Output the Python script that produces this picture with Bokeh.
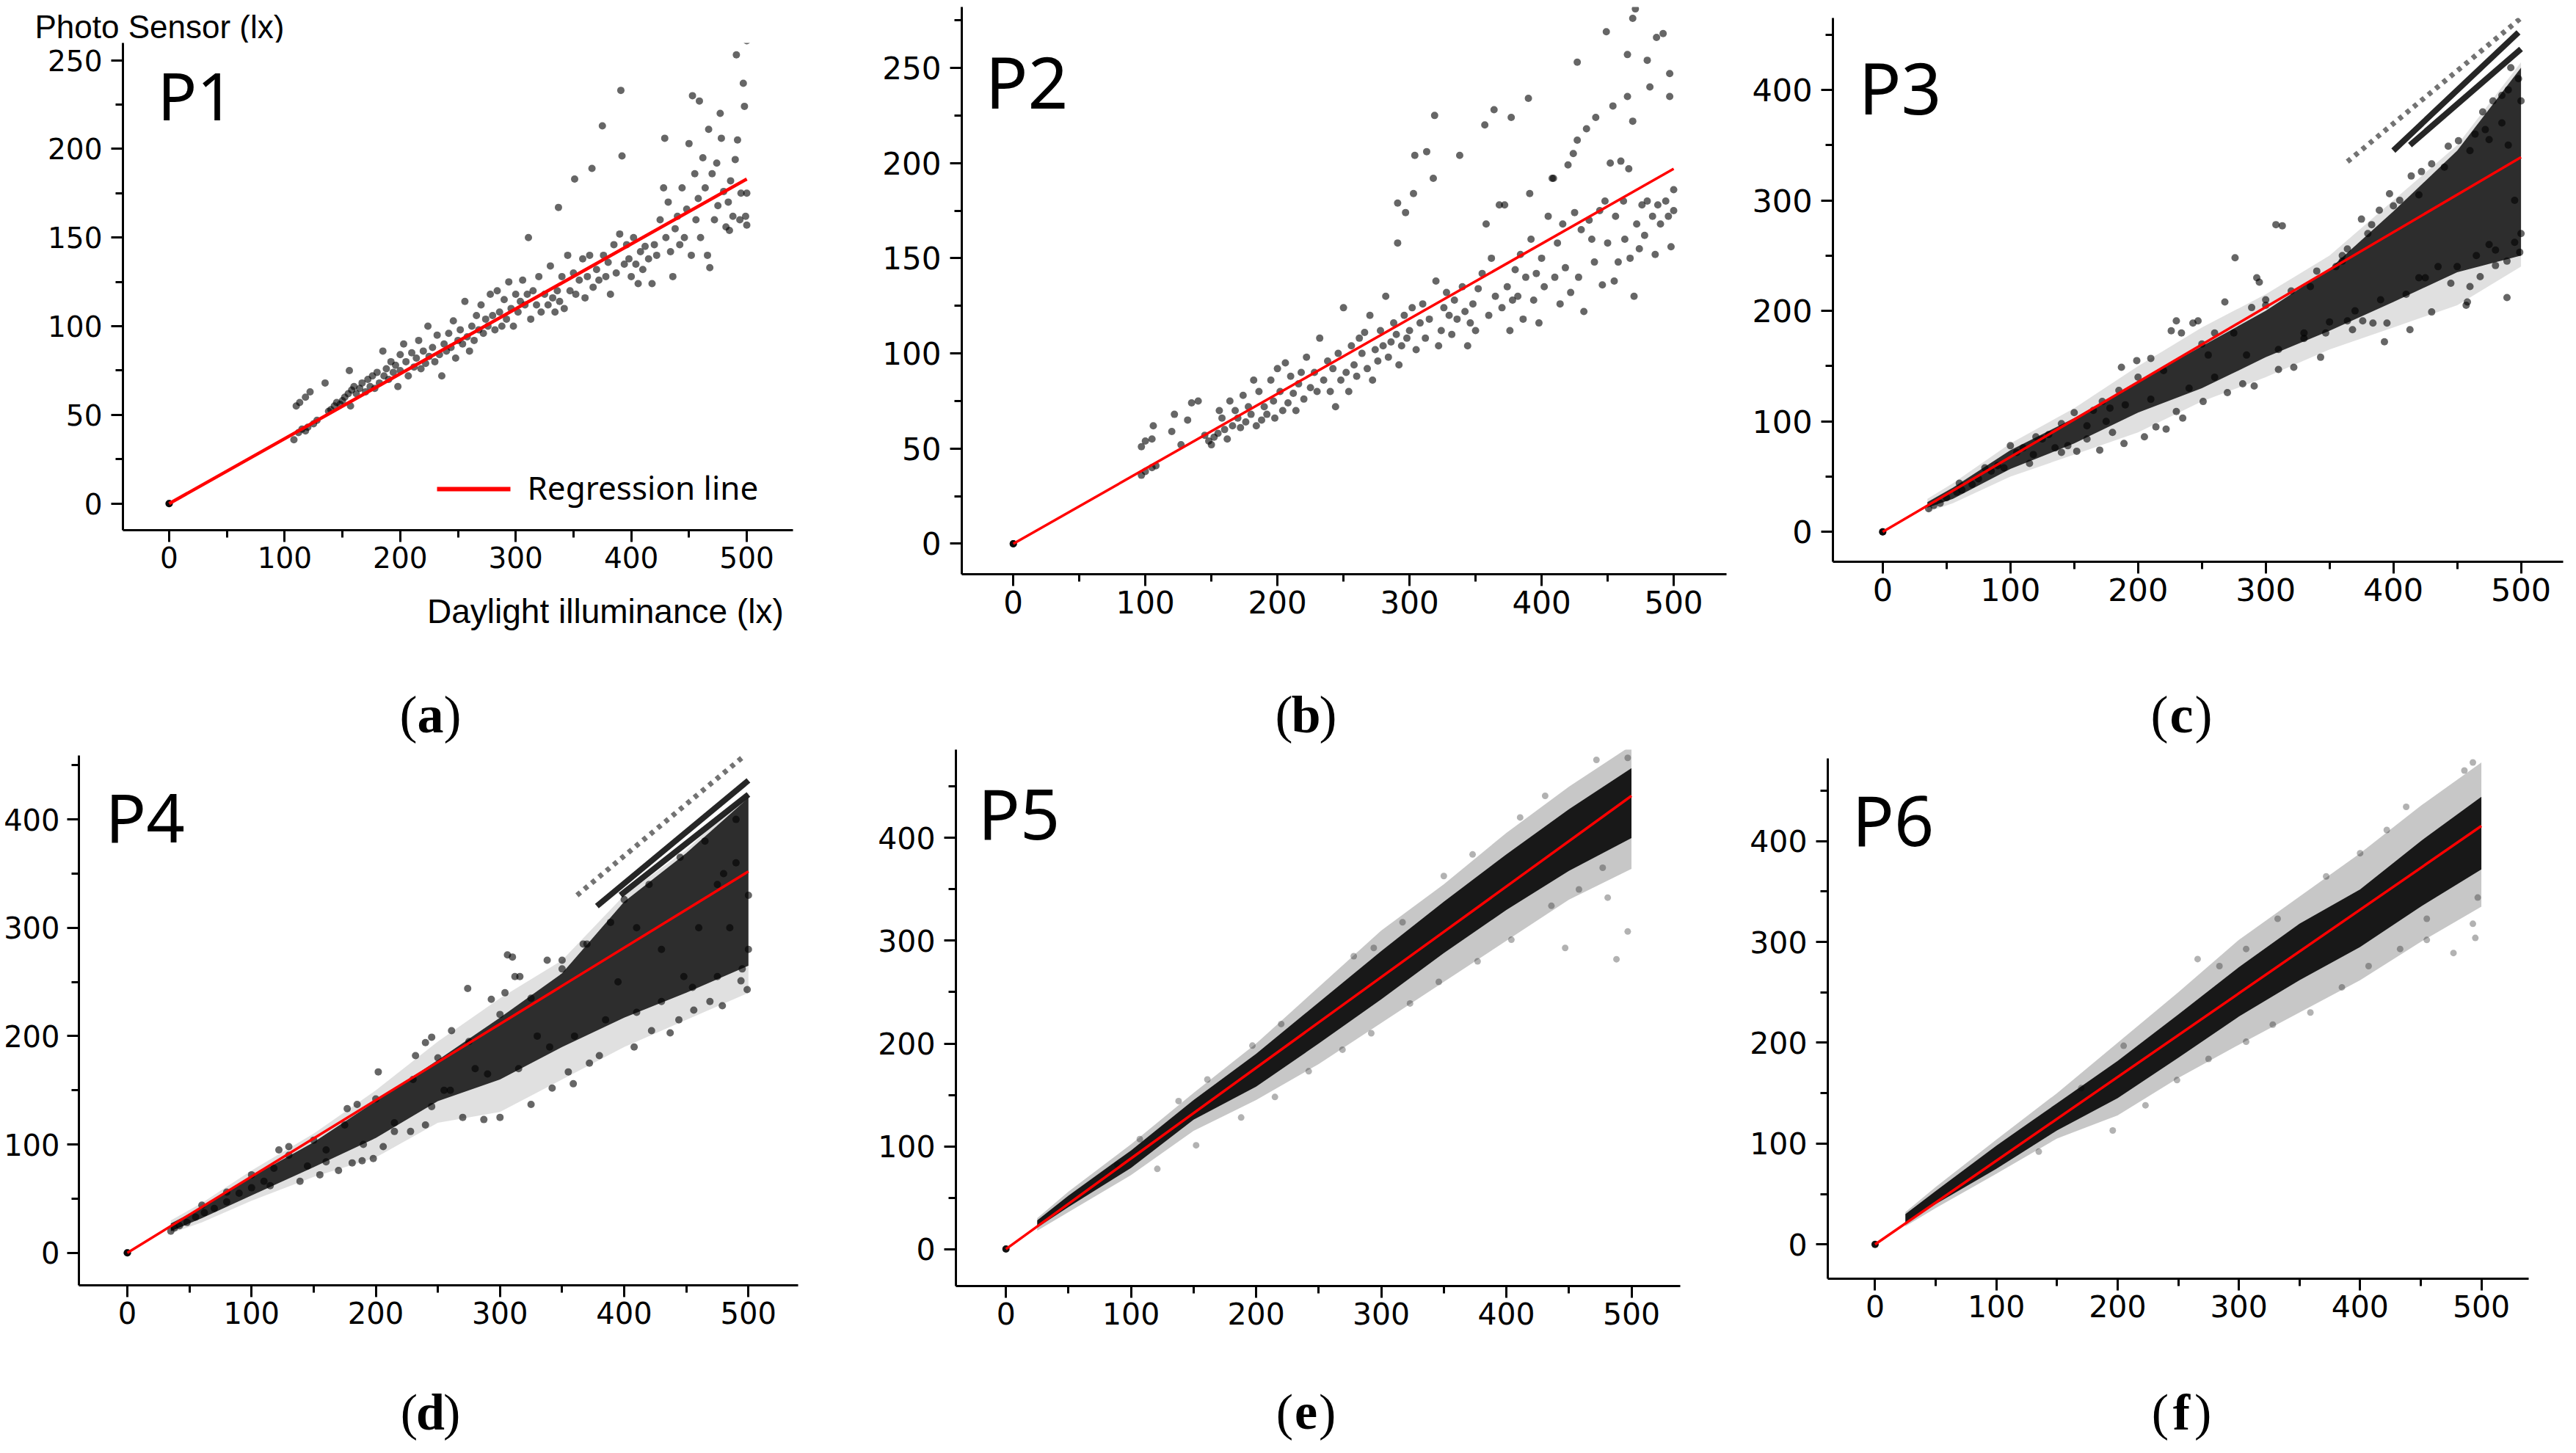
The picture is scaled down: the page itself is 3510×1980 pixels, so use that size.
from bokeh.plotting import figure
from bokeh.models import Label, FixedTicker, Range1d
from bokeh.layouts import row, column
from bokeh.core.properties import value
from bokeh.embed import file_html
from bokeh.resources import INLINE

# ---------------- data ----------------
panel_names = ["P1", "P2", "P3", "P4", "P5", "P6"]
caption_letters = ["a", "b", "c", "d", "e", "f"]
x_ticks = [0, 100, 200, 300, 400, 500]
x_minor = [50, 150, 250, 350, 450]
y_ticks_small = [0, 50, 100, 150, 200, 250]
y_minor_small = [25, 75, 125, 175, 225, 275]
y_ticks_large = [0, 100, 200, 300, 400]
y_minor_large = [50, 150, 250, 350, 450]

reg_x = [0, 500]
reg_end = [183, 197, 339, 352, 441, 415]   # regression value at x = 500

p1_pts = [
    (0, 0),
    (108, 36), (112, 40), (115, 42), (118, 41), (120, 43), (110, 55), (113, 57), (118, 60), (122, 63), (125, 45), (128, 47),
    (135, 68), (138, 52), (140, 53), (143, 55), (145, 57), (148, 56), (150, 58), (152, 60), (155, 62), (157, 55), (158, 64), (160, 66), (156, 75),
    (162, 62), (165, 65), (167, 68), (170, 63), (172, 70), (174, 66), (176, 72), (178, 65), (180, 74), (182, 68), (185, 86), (186, 72), (188, 76),
    (190, 70), (192, 80), (194, 74), (196, 78), (198, 66), (200, 84), (200, 75),
    (203, 90), (205, 80), (207, 72), (210, 85), (212, 77), (214, 82), (216, 92), (218, 76), (220, 86), (222, 79), (224, 100), (225, 83),
    (228, 88), (230, 80), (232, 95), (234, 84), (236, 72), (238, 90), (240, 86), (242, 96), (244, 88), (246, 103), (248, 82), (250, 92),
    (252, 98), (254, 90), (256, 114), (258, 94), (260, 86), (262, 100), (264, 92), (266, 106), (268, 98), (270, 112), (272, 96), (274, 104),
    (276, 100), (278, 118), (280, 106), (282, 98), (284, 120), (286, 108), (288, 100), (290, 115), (292, 104), (294, 125), (296, 110), (298, 100), (300, 118),
    (302, 108), (304, 114), (306, 126), (308, 112), (310, 118), (311, 150), (313, 104), (315, 120), (318, 112), (320, 128), (322, 108), (325, 118),
    (328, 112), (330, 134), (332, 116), (334, 108), (336, 120), (337, 167), (338, 114), (340, 128), (342, 110), (345, 140), (347, 120), (350, 130),
    (351, 183), (352, 118), (355, 126), (358, 138), (360, 116), (362, 128), (364, 140), (366, 189), (367, 122), (370, 132), (372, 126), (375, 213),
    (376, 140), (378, 128), (380, 136), (382, 118), (385, 146), (387, 130), (390, 152), (391, 233), (392, 196), (394, 135), (396, 146), (398, 138), (400, 128),
    (402, 150), (404, 135), (406, 124), (408, 142), (410, 132), (412, 145), (415, 138), (418, 124), (420, 146), (422, 140), (425, 160), (428, 178),
    (429, 206), (430, 150), (432, 170), (434, 142), (436, 128), (438, 155), (440, 162), (442, 146), (444, 178), (446, 150), (448, 166), (450, 203),
    (452, 140), (453, 230), (455, 186), (456, 160), (458, 172), (459, 227), (460, 150), (462, 195), (464, 178), (466, 140), (467, 211), (468, 133),
    (470, 186), (472, 160), (474, 192), (475, 168), (477, 220), (478, 206), (480, 176), (482, 156), (484, 170), (485, 154), (486, 182), (488, 162),
    (490, 194), (491, 253), (492, 205), (494, 160), (495, 175), (497, 237), (498, 224), (499, 162), (500, 261), (500, 175), (500, 157),
]

p2_pts = [
    (0, 0),
    (97, 36), (100, 38), (105, 40), (108, 41), (97, 51), (100, 54), (105, 55), (106, 62), (120, 59), (122, 68), (127, 52), (132, 65), (135, 74), (140, 75),
    (145, 57), (148, 54), (150, 52), (152, 56), (155, 58), (156, 70), (158, 66), (160, 60), (162, 55), (164, 75), (166, 62), (168, 70), (170, 66),
    (172, 61), (174, 78), (176, 64), (178, 72), (180, 68), (182, 86), (184, 62), (186, 80), (188, 65), (190, 72), (192, 68), (195, 86), (197, 75),
    (198, 66), (200, 92), (202, 80),
    (204, 70), (206, 95), (208, 74), (210, 88), (212, 79), (214, 70), (216, 84), (218, 90), (220, 76), (222, 98), (225, 82), (228, 90), (230, 80),
    (232, 108), (235, 86), (238, 96), (240, 80), (242, 92), (244, 72), (246, 100), (248, 86), (250, 124), (252, 90), (254, 80), (256, 104), (258, 94), (260, 88),
    (262, 108), (264, 100), (266, 111), (268, 92), (270, 120), (272, 86), (274, 102), (276, 96), (278, 112), (280, 104), (282, 130), (284, 98),
    (286, 106), (288, 116), (290, 110), (291, 158), (291, 179), (292, 94), (294, 104), (296, 120), (297, 174), (298, 108), (300, 112), (302, 124),
    (303, 184), (304, 204), (305, 102), (308, 116), (310, 126), (312, 108), (313, 206), (315, 118), (318, 192), (319, 225), (320, 138),
    (322, 104), (324, 112), (326, 124), (328, 132), (330, 120), (332, 110), (334, 128), (336, 118), (338, 204), (340, 135), (342, 122), (344, 104),
    (346, 116), (348, 126), (350, 112), (352, 134), (355, 142), (357, 220), (358, 168), (360, 120), (362, 150), (364, 228), (365, 130), (368, 178),
    (370, 124), (372, 178), (374, 135), (376, 112), (377, 224), (378, 128), (380, 144),
    (382, 130), (384, 152), (386, 118), (388, 140), (390, 234), (391, 184), (392, 160), (394, 128), (396, 142), (398, 116), (400, 150), (402, 135),
    (405, 172), (408, 192), (409, 192), (410, 140), (412, 158), (414, 126), (416, 168), (418, 145), (420, 199), (422, 132), (424, 205), (425, 174),
    (427, 212), (427, 253), (428, 140), (430, 165), (432, 122), (434, 218), (436, 170), (438, 160), (440, 148),
    (441, 224), (444, 175), (446, 136), (448, 180), (449, 269), (450, 158), (452, 200), (454, 230), (455, 138), (456, 172), (458, 148), (460, 201),
    (462, 180), (463, 160), (465, 257), (465, 235), (466, 197), (467, 150), (469, 276), (469, 222), (470, 130), (471, 281), (472, 168), (474, 155),
    (476, 178), (478, 162), (480, 254), (480, 180), (482, 240), (484, 172), (486, 152), (487, 266), (488, 178), (490, 168), (492, 268), (494, 180),
    (496, 172), (497, 247), (497, 235), (498, 156), (500, 186), (500, 175),
]

p3_pts = [
    (0, 0),
    (36, 21), (40, 24), (45, 26), (50, 31), (58, 36), (62, 38), (70, 43), (75, 48), (85, 55), (90, 60), (95, 58), (105, 72), (110, 76), (118, 70),
    (125, 84), (130, 88), (135, 76), (140, 98), (145, 78), (152, 73), (160, 84), (165, 110), (170, 74), (172, 118), (178, 112), (180, 90), (185, 128),
    (187, 149), (189, 80), (199, 155), (205, 86), (210, 157), (214, 95), (222, 93), (226, 182), (230, 191), (230, 109), (234, 180), (235, 103),
    (243, 189), (247, 191), (251, 118), (255, 160), (260, 180), (268, 208), (270, 126), (276, 248), (282, 134), (289, 203), (291, 132), (293, 230),
    (295, 226), (300, 205), (308, 278), (310, 147), (313, 277), (322, 149), (330, 180), (335, 222), (343, 158), (347, 180), (355, 240), (360, 250),
    (364, 191), (364, 256), (368, 183), (375, 283), (376, 191), (383, 278), (384, 189), (389, 291), (393, 172), (395, 189), (397, 306), (405, 300),
    (413, 183), (414, 322), (420, 230), (422, 326), (430, 199), (430, 333), (435, 240), (443, 349), (445, 225), (451, 354), (457, 205), (458, 208),
    (460, 222), (464, 360), (468, 231), (472, 364), (475, 260), (480, 241), (485, 370), (489, 212), (489, 245), (495, 300), (499, 253), (500, 270),
    (500, 390), (498, 410), (490, 400), (485, 395), (478, 390), (470, 380), (492, 420),
    (60, 44), (80, 58), (100, 78), (115, 62), (120, 86), (140, 72), (150, 108), (160, 96), (175, 100), (190, 115), (200, 140), (210, 120),
    (220, 146), (240, 130), (250, 170), (260, 140), (275, 180), (285, 160), (300, 210), (310, 165), (320, 218), (330, 175), (340, 236), (350, 190),
    (360, 245), (370, 200), (380, 270), (390, 210), (400, 295), (410, 215), (420, 305), (425, 230), (440, 330), (450, 240), (460, 345), (465, 250),
    (475, 355), (480, 255), (490, 350), (495, 262),
]

p4_pts = [
    (0, 0),
    (35, 20), (38, 23), (42, 25), (48, 28), (55, 33), (62, 37), (70, 41), (80, 47), (90, 55), (100, 60), (110, 66), (118, 78), (122, 95), (130, 98),
    (139, 66), (145, 80), (155, 72), (160, 95), (170, 76), (177, 133), (181, 83), (185, 137), (189, 85), (198, 87), (202, 167), (206, 98), (215, 120),
    (228, 112), (232, 182), (240, 118), (240, 194), (245, 199), (255, 150), (261, 205), (270, 125), (274, 244), (280, 170), (287, 123), (293, 234),
    (300, 125), (304, 240), (306, 275), (310, 273), (312, 255), (316, 255), (325, 137), (330, 200), (338, 270), (342, 152), (350, 270), (355, 167),
    (359, 156), (367, 285), (372, 175), (380, 182), (389, 305), (395, 250), (408, 190), (410, 300), (422, 205), (430, 280), (437, 203), (444, 215),
    (448, 255), (456, 224), (460, 300), (469, 232), (475, 340), (479, 228), (485, 300), (494, 251), (499, 243), (500, 280), (500, 330), (490, 360), (480, 350),
    (60, 44), (80, 56), (100, 72), (115, 62), (130, 90), (150, 104), (160, 84), (175, 118), (190, 100), (200, 142), (215, 112), (230, 160),
    (245, 135), (250, 180), (260, 150), (275, 195), (290, 165), (300, 220), (315, 170), (325, 235), (340, 190), (350, 262), (360, 200), (370, 285),
    (385, 215), (400, 326), (410, 222), (420, 340), (430, 232), (445, 365), (455, 245), (465, 380), (475, 255), (490, 400), (495, 262),
]

p5_pts = [
    (0, 0), (89, 82), (107, 107), (121, 78), (138, 144), (152, 101), (161, 165), (188, 128), (197, 198), (215, 148), (220, 219), (242, 173),
    (269, 194), (278, 285), (292, 210), (294, 293), (317, 318), (323, 239), (346, 260), (350, 363), (373, 384), (377, 280), (404, 301), (411, 420),
    (431, 441), (436, 334), (447, 293), (458, 350), (472, 476), (477, 371), (481, 342), (488, 282), (497, 309), (497, 478),
]

p6_pts = [
    (0, 0), (135, 92), (170, 155), (196, 113), (205, 197), (223, 138), (249, 163), (266, 283), (275, 184), (284, 276), (306, 293), (306, 201),
    (328, 218), (332, 323), (359, 230), (372, 365), (385, 255), (400, 388), (407, 276), (422, 411), (433, 293), (438, 434), (455, 302), (455, 323),
    (477, 289), (486, 470), (493, 318), (493, 478), (495, 304), (497, 344),
]

# dense cores of the clouds (lower / upper edge of the saturated region)
p3_band_x = [35, 55, 100, 150, 200, 250, 300, 350, 400, 450, 500]
p3_band_lo = [22, 30, 57, 80, 108, 130, 158, 182, 208, 235, 250]
p3_band_hi = [27, 40, 74, 103, 136, 168, 200, 238, 290, 345, 420]
p3_fringe_lo = [18, 26, 50, 70, 90, 118, 140, 165, 185, 205, 240]
p3_fringe_hi = [30, 44, 80, 112, 150, 185, 215, 250, 300, 350, 425]

p4_band_x = [35, 60, 100, 150, 200, 250, 300, 350, 400, 450, 500]
p4_band_lo = [20, 32, 53, 79, 106, 140, 160, 190, 217, 240, 265]
p4_band_hi = [27, 42, 70, 102, 140, 178, 217, 258, 324, 369, 420]
p4_fringe_lo = [18, 28, 48, 70, 88, 120, 130, 160, 190, 215, 240]
p4_fringe_hi = [30, 46, 76, 110, 150, 195, 235, 270, 330, 372, 425]

p5_band_x = [25, 50, 100, 150, 200, 250, 300, 350, 400, 450, 500]
p5_band_lo = [21, 41, 79, 126, 158, 200, 243, 288, 330, 368, 400]
p5_band_hi = [28, 52, 96, 145, 190, 240, 290, 338, 384, 428, 468]
p5_fringe_lo = [18, 36, 72, 115, 145, 180, 220, 260, 300, 340, 370]
p5_fringe_hi = [30, 56, 102, 152, 200, 255, 310, 355, 405, 450, 490]

p6_band_x = [25, 50, 100, 150, 200, 250, 300, 350, 400, 450, 500]
p6_band_lo = [21, 40, 75, 113, 145, 185, 226, 262, 295, 335, 372]
p6_band_hi = [30, 53, 98, 140, 182, 228, 275, 318, 352, 400, 444]
p6_fringe_lo = [18, 36, 70, 105, 128, 165, 198, 230, 262, 300, 335]
p6_fringe_hi = [32, 57, 104, 150, 200, 250, 302, 345, 388, 435, 478]

# streaks of points at the upper right of P3 and P4 (start / end)
p3_streak_x0 = [364, 400, 413]
p3_streak_y0 = [335, 345, 350]
p3_streak_x1 = [500, 498, 500]
p3_streak_y1 = [465, 452, 437]
p4_streak_x0 = [362, 378, 397]
p4_streak_y0 = [330, 320, 330]
p4_streak_x1 = [497, 500, 500]
p4_streak_y1 = [459, 436, 423]

# ---------------- layout (screen pixels of the page) ----------------
COLS = [(8, 1187), (1195, 1190), (2385, 1117)]
# observed vertical offset of the alphabetic baseline (fraction of font size)
BASE_FIX = {"Noto Sans": 0.30, "Liberation Serif": 0.19, "Liberation Sans": 0.16}

cfgs = [
    dict(frame=(175, 1088, 66, 730), fig=(66, 804), strip=(804, 1026), xr=(-40, 540), yr=(-15, 259.75), col=0,
         yt=(y_ticks_small, y_minor_small), tick_fs=39, ystand=12, pfs=89, plab=(222, 164), cap=(594, 995), cfs=72, lw=4.5),
    dict(frame=(1318, 2360, 17, 790), fig=(8, 900), strip=(900, 1026), xr=(-39, 540), yr=(-16, 282), col=1,
         yt=(y_ticks_small, y_minor_small), tick_fs=42, ystand=12, pfs=96, plab=(1350, 147), cap=(1787, 995), cfs=72, lw=3.5),
    dict(frame=(2505, 3500, 32, 773), fig=(8, 900), strip=(900, 1026), xr=(-39, 533), yr=(-27, 465), col=2,
         yt=(y_ticks_large, y_minor_large), tick_fs=43, ystand=12, pfs=96, plab=(2540, 155), cap=(2980, 995), cfs=72, lw=3.5),
    dict(frame=(115, 1095, 1037, 1759), fig=(1026, 1840), strip=(1840, 1972), xr=(-39, 540), yr=(-30, 459), col=0,
         yt=(y_ticks_large, y_minor_large), tick_fs=40, ystand=10, pfs=92, plab=(151, 1148), cap=(594, 1945), cfs=70, lw=3.5),
    dict(frame=(1310, 2297, 1029, 1760), fig=(1026, 1840), strip=(1840, 1972), xr=(-40, 539), yr=(-36, 486), col=1,
         yt=(y_ticks_large, y_minor_large), tick_fs=41, ystand=12, pfs=95, plab=(1340, 1143), cap=(1787, 1945), cfs=70, lw=3.5),
    dict(frame=(2498, 3453, 1041, 1750), fig=(1026, 1840), strip=(1840, 1972), xr=(-39, 539), yr=(-34, 482), col=2,
         yt=(y_ticks_large, y_minor_large), tick_fs=41, ystand=12, pfs=95, plab=(2531, 1152), cap=(2980, 1945), cfs=70, lw=3.5),
]

pts_all = [p1_pts, p2_pts, p3_pts, p4_pts, p5_pts, p6_pts]
bands = {
    2: (p3_band_x, p3_band_lo, p3_band_hi, p3_fringe_lo, p3_fringe_hi, 0.8, 0.12),
    3: (p4_band_x, p4_band_lo, p4_band_hi, p4_fringe_lo, p4_fringe_hi, 0.8, 0.12),
    4: (p5_band_x, p5_band_lo, p5_band_hi, p5_fringe_lo, p5_fringe_hi, 0.88, 0.22),
    5: (p6_band_x, p6_band_lo, p6_band_hi, p6_fringe_lo, p6_fringe_hi, 0.88, 0.22),
}
streaks = {
    2: (p3_streak_x0, p3_streak_y0, p3_streak_x1, p3_streak_y1),
    3: (p4_streak_x0, p4_streak_y0, p4_streak_x1, p4_streak_y1),
}
pt_alpha = [0.6, 0.6, 0.6, 0.6, 0.3, 0.3]
pt_size = [10, 10, 10, 10, 9, 9]


def no_align(f):
    if "frame_align" in f.properties():
        f.frame_align = False


def to_data(cfg, sx, sy):
    L, R, T, B = cfg["frame"]
    x0, x1 = cfg["xr"]
    y0, y1 = cfg["yr"]
    return x0 + (sx - L) / (R - L) * (x1 - x0), y0 + (B - sy) / (B - T) * (y1 - y0)


def strip(w, h):
    s = figure(width=w, height=h, x_range=Range1d(0, w), y_range=Range1d(h, 0),
               output_backend="svg", toolbar_location=None, title_location=None,
               x_axis_location=None, y_axis_location=None,
               min_border_left=0, min_border_right=0, min_border_top=0, min_border_bottom=0)
    s.xgrid.visible = False
    s.ygrid.visible = False
    s.outline_line_color = None
    s.background_fill_color = "white"
    s.border_fill_color = "white"
    no_align(s)
    return s


def put_text(s, x, y, txt, font, size, align="left", style="normal"):
    y = y - BASE_FIX[font] * size
    s.text(x=[x], y=[y], text=[txt], text_font=value(font), text_font_size="%dpx" % size,
           text_font_style=style, text_align=align, text_baseline="alphabetic",
           text_color="black")


def put_label(p, cfg, sx, sy, txt, font, size):
    x, y = to_data(cfg, sx, sy - BASE_FIX[font] * size)
    p.add_layout(Label(x=x, y=y, text=txt, text_font=font, text_font_size="%dpx" % size,
                       text_color="black", text_baseline="alphabetic", text_align="left"))


columns = []
for i, cfg in enumerate(cfgs):
    L, R, T, B = cfg["frame"]
    cx0, cw = COLS[cfg["col"]]
    ftop, fbot = cfg["fig"]
    p = figure(width=cw, height=fbot - ftop,
               x_range=Range1d(*cfg["xr"]), y_range=Range1d(*cfg["yr"]),
               output_backend="svg", toolbar_location=None, title_location=None,
               min_border_left=L - cx0, min_border_right=cx0 + cw - R,
               min_border_top=T - ftop, min_border_bottom=fbot - B)
    no_align(p)
    p.outline_line_color = None
    p.xgrid.visible = False
    p.ygrid.visible = False
    p.background_fill_color = "white"
    p.border_fill_color = "white"

    p.xaxis.ticker = FixedTicker(ticks=x_ticks, minor_ticks=x_minor)
    p.yaxis.ticker = FixedTicker(ticks=cfg["yt"][0], minor_ticks=cfg["yt"][1])
    for ax in (p.xaxis[0], p.yaxis[0]):
        ax.axis_line_width = 3
        ax.axis_line_color = "black"
        ax.major_tick_line_width = 3
        ax.minor_tick_line_width = 3
        ax.major_tick_line_color = "black"
        ax.minor_tick_line_color = "black"
        ax.major_tick_out = 16
        ax.major_tick_in = 0
        ax.minor_tick_out = 10
        ax.minor_tick_in = 0
        ax.major_label_text_font = "DejaVu Sans"
        ax.major_label_text_font_size = "%dpx" % cfg["tick_fs"]
        ax.major_label_text_color = "black"
    p.xaxis.major_label_standoff = 6
    p.yaxis.major_label_standoff = cfg["ystand"]

    if i in bands:
        bx, lo, hi, flo, fhi, a_core, a_fr = bands[i]
        p.varea(x=bx, y1=flo, y2=fhi, fill_color="black", fill_alpha=a_fr)
        p.varea(x=bx, y1=lo, y2=hi, fill_color="black", fill_alpha=a_core)

    xs = [q[0] for q in pts_all[i]]
    ys = [q[1] for q in pts_all[i]]
    p.scatter(xs, ys, size=pt_size[i], fill_color="black", fill_alpha=pt_alpha[i], line_color=None)
    p.scatter([0], [0], size=10, fill_color="black", fill_alpha=0.9, line_color=None)

    if i in streaks:
        sx0, sy0, sx1, sy1 = streaks[i]
        p.segment(x0=sx0[:1], y0=sy0[:1], x1=sx1[:1], y1=sy1[:1], line_color="black",
                  line_alpha=0.55, line_width=7, line_dash="6 7")
        p.segment(x0=sx0[1:], y0=sy0[1:], x1=sx1[1:], y1=sy1[1:], line_color="black",
                  line_alpha=0.85, line_width=8)

    p.line(reg_x, [0, reg_end[i]], line_color="#ff0000", line_width=cfg["lw"])

    # panel name (inside the frame)
    put_label(p, cfg, cfg["plab"][0], cfg["plab"][1], panel_names[i], "Noto Sans", cfg["pfs"])

    parts = []
    if i == 0:
        lx0, ly0 = to_data(cfg, 603, 674)
        lx1, _ = to_data(cfg, 703, 674)
        p.line([lx0, lx1], [ly0, ly0], line_color="#ff0000", line_width=6)
        put_label(p, cfg, 726, 685, "Regression line", "Noto Sans", 44)
        top = strip(cw, ftop - 8)
        put_text(top, 55 - cx0, 51 - 8, "Photo Sensor (lx)", "Liberation Sans", 44)
        parts.append(top)
    parts.append(p)

    # caption strip below the panel
    stop, sbot = cfg["strip"]
    cs = strip(cw, sbot - stop)
    if i == 0:
        put_text(cs, 1088 - cx0, 848 - stop, "Daylight illuminance  (lx)", "Liberation Sans", 46, align="right")
    ccx, ccy = cfg["cap"]
    cfs = cfg["cfs"]
    half = cfs / 4.0
    put_text(cs, ccx - half - cx0, ccy - stop, "(", "Liberation Serif", cfs, align="right")
    put_text(cs, ccx - cx0, ccy - stop, caption_letters[i], "Liberation Serif", cfs, align="center", style="bold")
    put_text(cs, ccx + half - cx0, ccy - stop, ")", "Liberation Serif", cfs, align="left")
    parts.append(cs)
    col = column(*parts, spacing=0)
    columns.append(col)

r1 = row(columns[0], columns[1], columns[2], spacing=0)
r2 = row(columns[3], columns[4], columns[5], spacing=0)
layout = column(r1, r2, spacing=0)

open("out.html", "w").write(file_html(layout, INLINE))
